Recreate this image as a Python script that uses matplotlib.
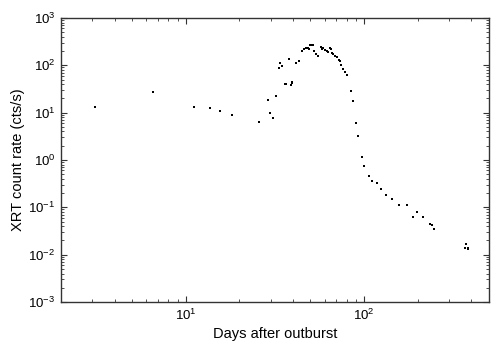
import numpy as np
import matplotlib
matplotlib.use("Agg")
import matplotlib.pyplot as plt
from matplotlib.ticker import LogLocator, NullFormatter, FixedLocator

plt.rcParams['font.family'] = ['Liberation Sans', 'DejaVu Sans']
plt.rcParams['mathtext.fontset'] = 'custom'
plt.rcParams['mathtext.rm'] = 'Liberation Sans'
plt.rcParams['mathtext.it'] = 'Liberation Sans:italic'

# days after outburst
days = [3.12, 6.56, 11.1, 13.6, 15.6, 18.2,
        25.9, 28.9, 29.8, 31.0, 31.9, 33.5, 33.7, 34.8, 36.0, 36.6,
        38.0, 38.8, 39.3, 39.5, 41.4, 43.4, 44.6, 45.9, 47.1, 48.3,
        48.8, 49.7, 50.9, 51.7, 52.5, 53.6, 55.5, 57.4, 58.4, 59.1,
        60.5, 62.1, 62.9, 64.0, 65.1, 66.5, 67.3, 68.8, 70.3, 72.1,
        73.1, 74.6, 76.6, 78.3, 80.0, 84.3, 86.5, 90.2, 92.9, 97.0,
        100, 106, 111, 118, 125, 133, 144, 157, 173, 187, 198, 214,
        235, 240, 248, 371, 367, 380, 383]
# XRT count rate (cts/s)
rate = [13.1, 27.7, 13.3, 12.3, 10.6, 9.04,
        6.2, 18.5, 9.7, 7.7, 22.1, 87.7, 110, 96.7, 40.8, 40.8,
        138, 38.3, 44.4, 42, 110, 125, 204, 224, 232, 235,
        224, 264, 264, 268, 197, 173, 160, 240, 217, 228,
        211, 204, 194, 232, 218, 185, 173, 157, 148, 129,
        121, 101, 85, 73, 61, 28.2, 17.3, 6.1, 3.16, 1.15,
        0.74, 0.45, 0.358, 0.325, 0.243, 0.179, 0.147, 0.110, 0.110, 0.062, 0.080, 0.062,
        0.0435, 0.0425, 0.0346, 0.0167, 0.0137, 0.0131, 0.0140]

x_major = [10, 100]
y_major = [1e-3, 1e-2, 1e-1, 1e0, 1e1, 1e2, 1e3]

fig = plt.figure(figsize=(4.98, 3.52), dpi=100)
ax = fig.add_axes([0.1225, 0.142, 0.859, 0.807])

ax.plot(days, rate, 's', color='black', markersize=1.7, markeredgewidth=0)

ax.set_xscale('log')
ax.set_yscale('log')
ax.set_xlim(2, 500)
ax.set_ylim(1e-3, 1e3)

ax.xaxis.set_major_locator(FixedLocator(x_major))
ax.yaxis.set_major_locator(FixedLocator(y_major))
ax.yaxis.set_minor_locator(LogLocator(base=10, subs=np.arange(2, 10), numticks=20))
ax.yaxis.set_minor_formatter(NullFormatter())
ax.xaxis.set_minor_formatter(NullFormatter())

ax.tick_params(which='both', direction='in', top=True, right=True, labelsize=9.5,
               color='#333333')
ax.tick_params(which='major', length=4, width=0.8, pad=4)
ax.tick_params(which='minor', length=2, width=0.6)
for sp in ax.spines.values():
    sp.set_color('#333333')
    sp.set_linewidth(1.0)

ax.set_xlabel('Days after outburst', fontsize=10.5)
ax.set_ylabel('XRT count rate (cts/s)', fontsize=10.5)
ax.xaxis.set_label_coords(0.5, -0.088)
ax.yaxis.set_label_coords(-0.083, 0.5)

fig.savefig('out.png', dpi=100)
